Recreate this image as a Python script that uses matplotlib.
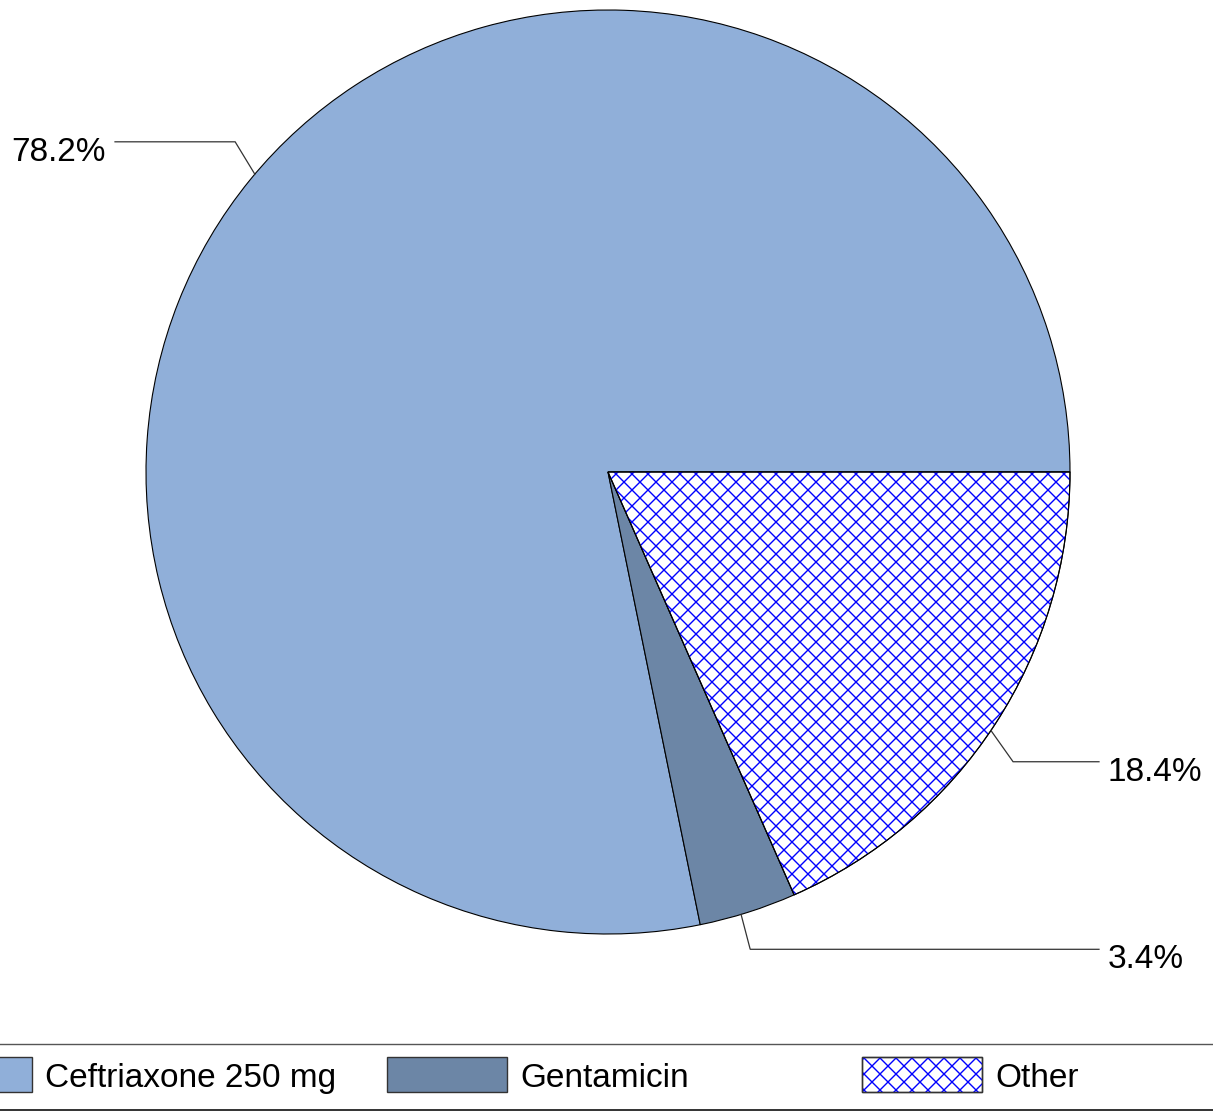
import numpy as np
import matplotlib.pyplot as plt
from matplotlib.patches import Wedge, Rectangle

plt.rcParams['font.family'] = ['Liberation Sans', 'DejaVu Sans']

# Treatment share
labels = ['Ceftriaxone 250 mg', 'Gentamicin', 'Other']
shares = [78.2, 3.4, 18.4]
colors = ['#90AFD9', '#6C86A6', 'white']

W, H = 1213, 1111
CX, CY, R = 608, 472, 462   # pie centre and radius in pixels


def dx(px):
    return (px - CX) / R


def dy(py):
    return (CY - py) / R


def crosshatch(ax, patch, step_px=16, color='blue'):
    """Diagonal cross-hatching clipped to a patch, phase locked to the origin."""
    step = step_px / R
    x0, x1 = ax.get_xlim()
    y0, y1 = ax.get_ylim()
    span = max(x1 - x0, y1 - y0) * 2
    xs = np.array([x0 - span, x1 + span])
    for c in np.arange(-span, span, step):
        for sgn in (1, -1):
            ln, = ax.plot(xs, sgn * xs + c, color=color, lw=1.0, zorder=1.5)
            ln.set_clip_path(patch)


fig = plt.figure(figsize=(W / 100, H / 100), dpi=100)
ax = fig.add_axes([0, 0, 1, 1])

wedges, _ = ax.pie(shares, colors=colors, startangle=0, counterclock=True,
                   radius=1, center=(0, 0),
                   wedgeprops=dict(edgecolor='black', linewidth=0.8))

ax.set_xlim(dx(0), dx(W))
ax.set_ylim(dy(H), dy(0))
ax.set_aspect('auto')
ax.axis('off')

# hatched slice, black outline on top of the hatch
other = wedges[2]
crosshatch(ax, other)
ax.add_patch(Wedge(other.center, other.r, other.theta1, other.theta2,
                   fill=False, edgecolor='black', linewidth=0.8, zorder=3))

# leader lines and percentage labels
for w, val in zip(wedges, shares):
    mid = (w.theta1 + w.theta2) / 2
    a = np.deg2rad(mid - 0.9)
    xa, ya = np.cos(a), np.sin(a)
    elbow = np.deg2rad(mid - 2.6 * abs(np.cos(a)) - 0.3)
    xb, yb = 1.078 * np.cos(elbow), 1.078 * np.sin(elbow)
    side = 1 if xa > 0 else -1
    xc = dx(1099) if side > 0 else dx(115)
    ax.plot([xa, xb, xc], [ya, yb, yb], color='#333333', lw=0.9,
            solid_joinstyle='miter', zorder=4)
    ax.text(xc + 9 / R * side, yb - 19 / R, f'{val}%', fontsize=24,
            ha='left' if side > 0 else 'right', va='baseline')

# legend strip at the bottom
ax.plot([dx(0), dx(W)], [dy(1043.5), dy(1043.5)], color='#555555', lw=1.0)
ax.plot([dx(0), dx(W)], [dy(1109.5), dy(1109.5)], color='#222222', lw=1.3)

legend_x = [-88, 387, 862]
for x, lab, col in zip(legend_x, labels, colors):
    rect = Rectangle((dx(x), dy(1092)), 120 / R, 35 / R, facecolor=col,
                     edgecolor='#333333', linewidth=1.0, zorder=2)
    ax.add_patch(rect)
    if lab == 'Other':
        crosshatch(ax, rect)
        rect.set_zorder(1)
        ax.add_patch(Rectangle((dx(x), dy(1092)), 120 / R, 35 / R, fill=False,
                               edgecolor='#333333', linewidth=1.0, zorder=3))
    ax.text(dx(x + 133), dy(1087), lab, fontsize=24, va='baseline', ha='left')

fig.savefig('out.png', dpi=100)
